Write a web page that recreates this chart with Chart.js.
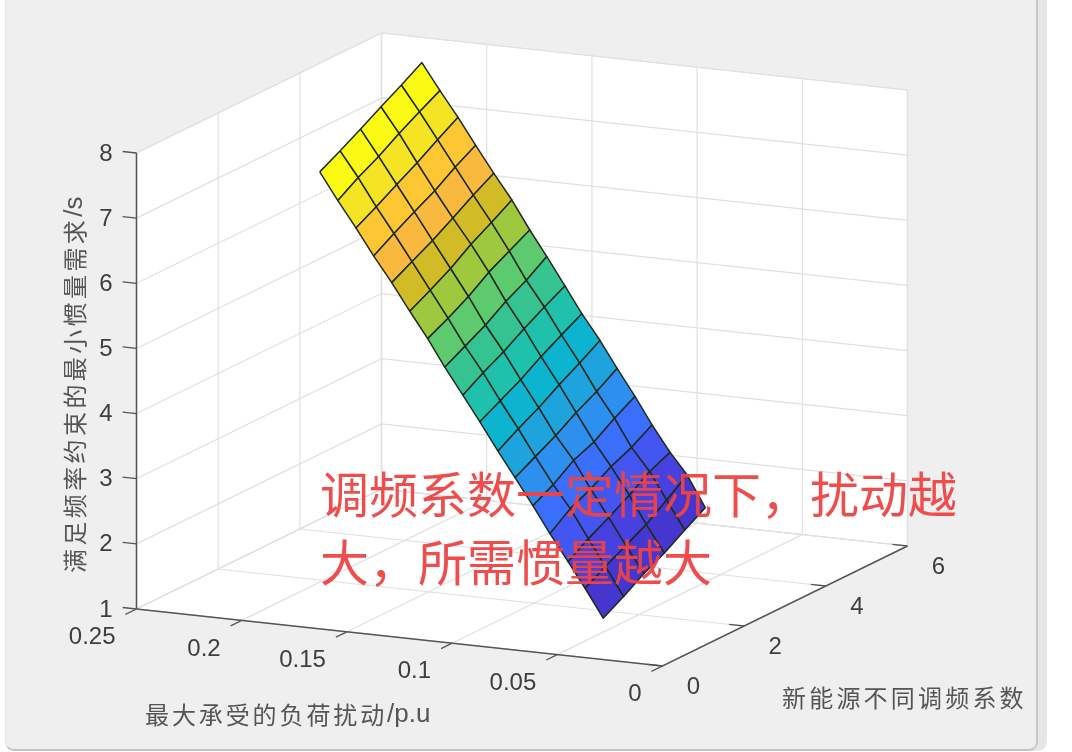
<!DOCTYPE html>
<html>
<head>
<meta charset="utf-8">
<style>
html,body{margin:0;padding:0;background:#fff;width:1072px;height:752px;overflow:hidden}
#win{position:absolute;left:5px;top:-12px;width:1030px;height:761px;background:#efefef;border-right:2px solid #c9c9c9;border-bottom:2px solid #c4c4c4;border-left:1px solid #e6e6e6;border-radius:0 0 9px 9px;box-shadow:9px 0 0 #e6e6e6}
#c{position:absolute;left:0;top:0;filter:blur(0.45px)}
</style>
</head>
<body>
<div id="win"></div>
<canvas id="c" width="1072" height="752"></canvas>
<script src="https://cdn.jsdelivr.net/npm/chart.js@4/dist/chart.umd.min.js"></script>
<script>
// ---- data ----
const disturbance = [0.1823,0.1737,0.1651,0.1567,0.1481,0.1395,0.1310,0.1229,0.1143,0.1062,0.0976,0.0895,0.0810,0.0729,0.0643,0.0562,0.0476];
const coefficient = [1,1.5,2,2.5,3,3.5];
const inertia = [
 [7.64,7.81,7.99,8.18,8.36,8.55],
 [7.23,7.43,7.60,7.80,7.98,8.15],
 [6.84,7.01,7.20,7.38,7.58,7.77],
 [6.44,6.63,6.81,6.98,7.19,7.37],
 [6.06,6.23,6.40,6.59,6.79,6.97],
 [5.65,5.82,6.00,6.22,6.40,6.59],
 [5.26,5.42,5.60,5.82,5.99,6.16],
 [4.85,5.02,5.19,5.40,5.57,5.78],
 [4.45,4.64,4.81,5.01,5.19,5.36],
 [4.07,4.24,4.41,4.61,4.79,4.96],
 [3.65,3.84,4.01,4.21,4.39,4.58],
 [3.27,3.44,3.61,3.81,3.98,4.18],
 [2.87,3.04,3.26,3.39,3.60,3.78],
 [2.47,2.70,2.85,3.04,3.18,3.37],
 [2.07,2.27,2.44,2.63,2.84,2.98],
 [1.69,1.87,2.04,2.21,2.43,2.66],
 [1.26,1.44,1.64,1.80,2.00,2.19]
];
const rowColors = ['#fafa14','#f5e424','#fdc733','#f8b93e','#d1bc27','#9ec93e','#5dca70','#35c392','#1fc1ac','#0cb4cf','#1fa3dd','#2d90ee','#3a6ffd','#4356f2','#4641df','#4636d0'];
const xTicks = [0.25,0.2,0.15,0.1,0.05,0];
const xTickLabels = ['0.25','0.2','0.15','0.1','0.05','0'];
const yTicks = [0,2,4,6];
const yTickLabels = ['0','2','4','6'];
const zTicks = [1,2,3,4,5,6,7,8];
const zTickLabels = ['1','2','3','4','5','6','7','8'];
const xTitle = ['最大承受的负荷扰动','/p.u'];
const yTitle = ['新能源不同调频系数',''];
const zTitle = ['满足频率约束的最小惯量需求','/s'];
const noteLines = ['调频系数一定情况下，扰动越','大，所需惯量越大'];

// ---- view of the 3-D box (orthographic) ----
const view = {ox:136.5, oy:609, xv:[526,57], yv:[245,-120], zv:[0,-456]};
const xMax = 0.25, xMin = 0, yMin = 0, yMax = 6, zMin = 1, zMax = 8;
function P(x,y,z){
  const u=(xMax-x)/(xMax-xMin), v=(y-yMin)/(yMax-yMin), w=(z-zMin)/(zMax-zMin);
  return {x:view.ox+u*view.xv[0]+v*view.yv[0]+w*view.zv[0],
          y:view.oy+u*view.xv[1]+v*view.yv[1]+w*view.zv[1]};
}
const datasets=[];
function line(pts,color,width){datasets.push({data:pts,showLine:true,borderColor:color,borderWidth:width,pointRadius:0,fill:false,tension:0,clip:false});}
function poly(pts,fillc,color,width){datasets.push({data:pts.concat([pts[0]]),showLine:true,backgroundColor:fillc,borderColor:color,borderWidth:width,pointRadius:0,fill:'shape',tension:0,clip:false,borderJoinStyle:'round'});}

// walls and floor
const wallC='#ffffff', gridC='#e0e0e0', axisC='#555555';
poly([P(xMax,yMin,zMin),P(xMax,yMax,zMin),P(xMax,yMax,zMax),P(xMax,yMin,zMax)],wallC,gridC,1.2);
poly([P(xMax,yMax,zMin),P(xMin,yMax,zMin),P(xMin,yMax,zMax),P(xMax,yMax,zMax)],wallC,gridC,1.2);
poly([P(xMax,yMin,zMin),P(xMin,yMin,zMin),P(xMin,yMax,zMin),P(xMax,yMax,zMin)],wallC,gridC,1.2);
// grid
zTicks.forEach(z=>line([P(xMax,yMin,z),P(xMax,yMax,z),P(xMin,yMax,z)],gridC,1.2));
xTicks.forEach(x=>line([P(x,yMin,zMin),P(x,yMax,zMin),P(x,yMax,zMax)],gridC,1.2));
yTicks.forEach(y=>line([P(xMin,y,zMin),P(xMax,y,zMin),P(xMax,y,zMax)],gridC,1.2));
// axes
line([P(xMax,yMin,zMin),P(xMin,yMin,zMin),P(xMin,yMax,zMin)],axisC,1.5);
line([P(xMax,yMin,zMin),P(xMax,yMin,zMax)],axisC,1.5);
// ticks
xTicks.forEach(x=>line([P(x,yMin,zMin),P(x,yMin-0.27,zMin)],axisC,1.3));
yTicks.forEach(y=>line([P(xMin,y,zMin),P(xMin+0.0072,y,zMin)],axisC,1.3));
zTicks.forEach(z=>line([P(xMax,yMin,z),P(xMax+0.0066,yMin,z)],axisC,1.3));
// surface
for(let i=0;i<disturbance.length-1;i++){
  for(let j=0;j<coefficient.length-1;j++){
    poly([P(disturbance[i],coefficient[j],inertia[i][j]),
          P(disturbance[i],coefficient[j+1],inertia[i][j+1]),
          P(disturbance[i+1],coefficient[j+1],inertia[i+1][j+1]),
          P(disturbance[i+1],coefficient[j],inertia[i+1][j])],rowColors[i],'#1e2a1c',1.5);
  }
}
datasets.forEach((d,i)=>{d.order=datasets.length-i;});

const labels3d={
  id:'labels3d',
  afterDatasetsDraw(chart){
    const c=chart.ctx, sx=chart.scales.x, sy=chart.scales.y;
    const px=p=>({x:sx.getPixelForValue(p.x),y:sy.getPixelForValue(p.y)});
    const title=(parts,x,y,gap)=>{
      c.letterSpacing=gap+'px';
      c.font='24px "Noto Sans CJK SC", sans-serif';
      c.fillText(parts[0],x,y);
      const w=c.measureText(parts[0]).width;
      c.letterSpacing='0px';
      c.font='26px "Liberation Sans", Arial, sans-serif';
      c.fillText(parts[1],x+w,y);
    };
    c.save();
    c.fillStyle='#3e3e3e';
    c.font='24px "Liberation Sans", Arial, sans-serif';
    c.textBaseline='middle';
    c.textAlign='right';
    xTicks.forEach((t,i)=>{const p=px(P(t,yMin,zMin));c.fillText(xTickLabels[i],p.x-21,p.y+28.5);});
    zTicks.forEach((t,i)=>{const p=px(P(xMax,yMin,t));c.fillText(zTickLabels[i],p.x-24,p.y+1);});
    c.textAlign='center';
    yTicks.forEach((t,i)=>{const p=px(P(xMin,t,zMin));c.fillText(yTickLabels[i],p.x+31,p.y+21);});
    // titles
    c.fillStyle='#555555';
    c.textAlign='left';
    title(xTitle,145,715,2.9);
    title(yTitle,782,698,3.2);
    c.translate(75,573);
    c.rotate(-Math.PI/2);
    title(zTitle,0,0,3.4);
    c.restore();
    // annotation
    c.save();
    c.fillStyle='rgba(240,66,66,0.95)';
    c.font='49px "Noto Sans CJK SC", sans-serif';
    c.textBaseline='middle';
    c.textAlign='left';
    c.fillText(noteLines[0],320,494);
    c.fillText(noteLines[1],320,562);
    c.restore();
  }
};
new Chart(document.getElementById('c'),{
  type:'scatter',
  data:{datasets},
  options:{
    responsive:false,animation:false,
    layout:{padding:0},
    plugins:{legend:{display:false},tooltip:{enabled:false},title:{display:false}},
    scales:{
      x:{type:'linear',min:0,max:1072,display:false},
      y:{type:'linear',min:0,max:752,reverse:true,display:false}
    }
  },
  plugins:[labels3d]
});
</script>
</body>
</html>
